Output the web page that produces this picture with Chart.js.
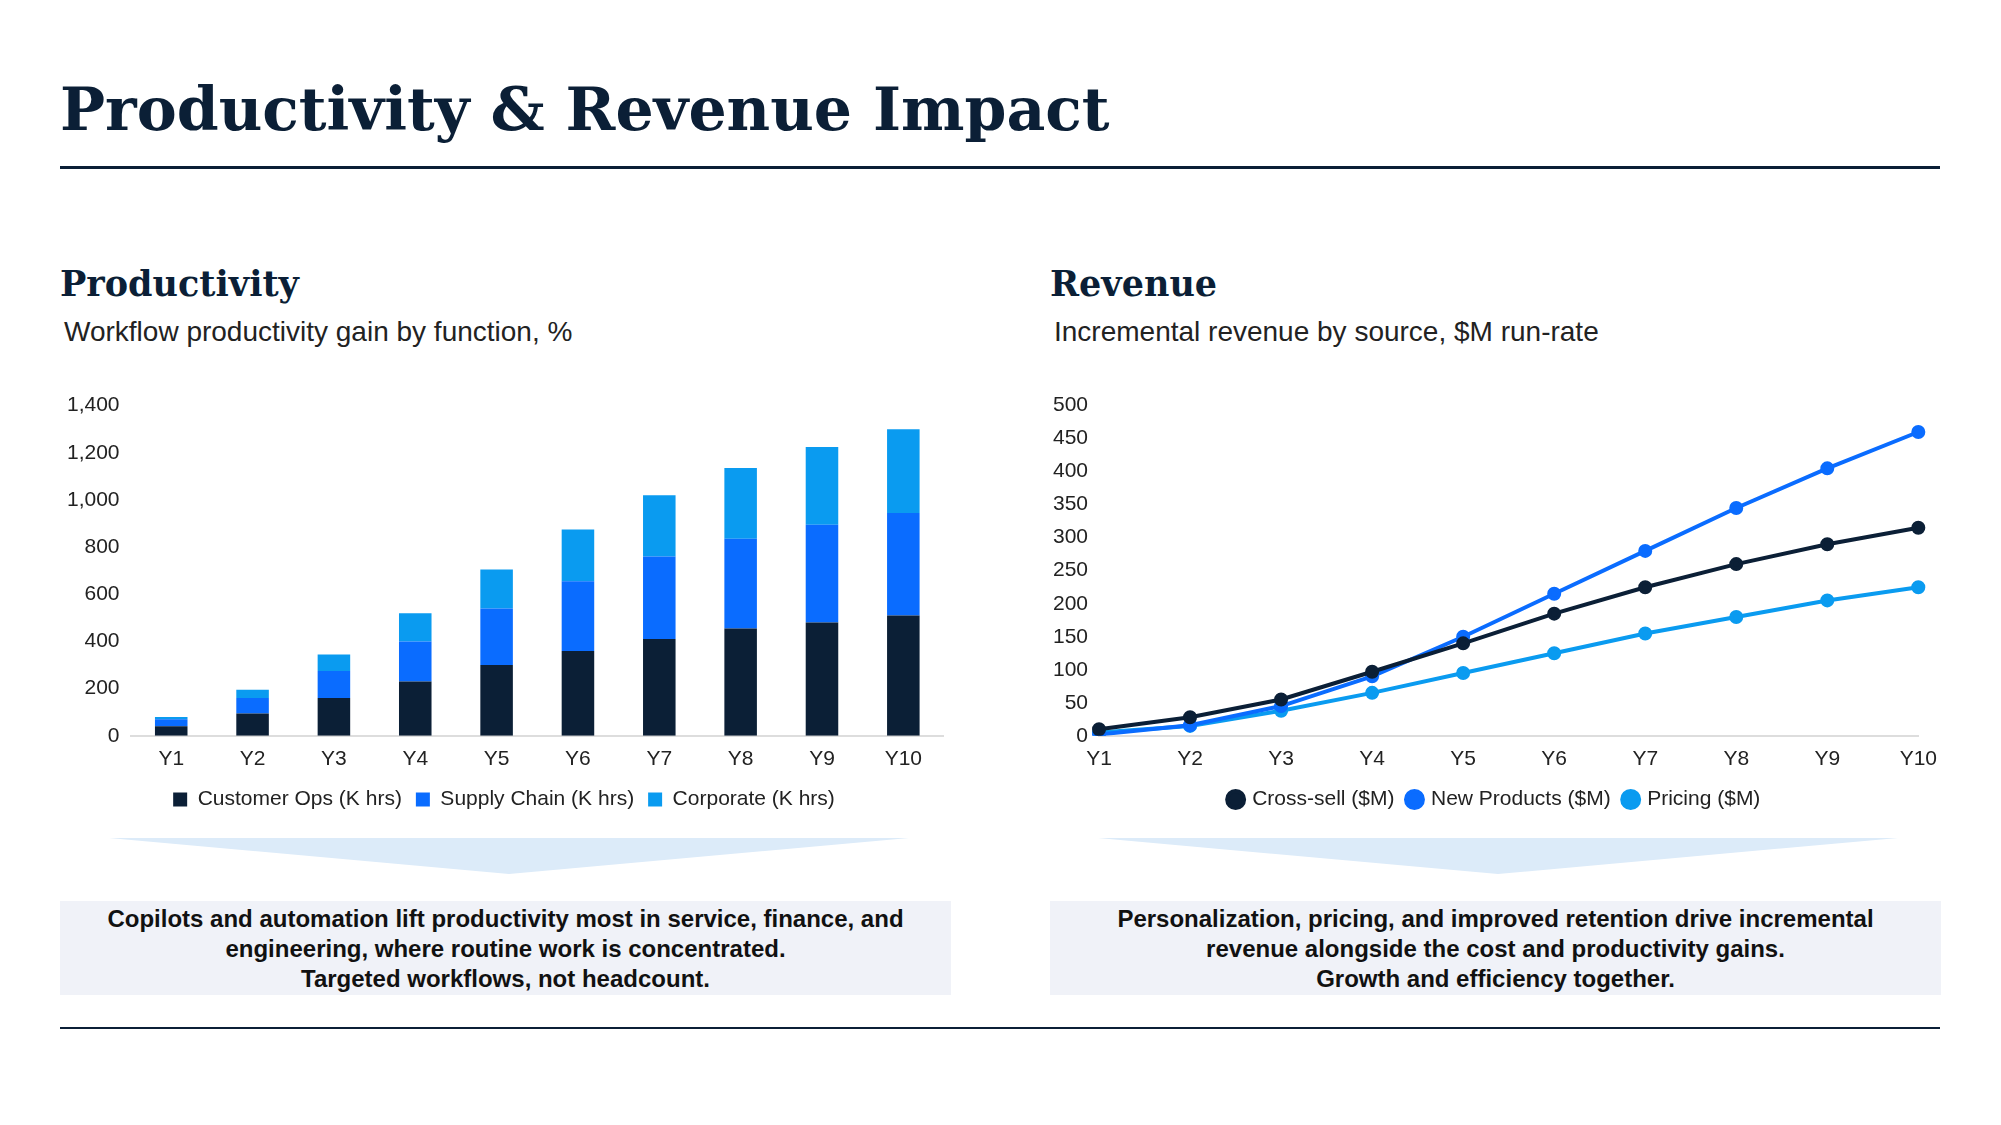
<!DOCTYPE html>
<html><head><meta charset="utf-8">
<script src="https://cdn.jsdelivr.net/npm/chart.js@4/dist/chart.umd.min.js"></script>
<style>
body{margin:0;width:2001px;height:1125px;background:#fff;font-family:"Liberation Sans",Arial,sans-serif;position:relative;overflow:hidden}
.abs{position:absolute}
h1{position:absolute;left:60px;top:74px;margin:0;font:bold 60px "DejaVu Serif",serif;color:#0b1f36}
.rule{position:absolute;left:60px;width:1880px;height:3px;background:#0b1f36}
h2{position:absolute;margin:0;font:bold 35px "DejaVu Serif",serif;color:#0b1f36}
.sub{position:absolute;font-size:28px;color:#222}
.tri{position:absolute;width:800px;height:36px;background:#dcebf9;clip-path:polygon(0 0,100% 0,50% 100%)}
.box{position:absolute;width:891px;height:94px;background:#f0f2f8;font-weight:bold;font-size:24px;color:#111;text-align:center;line-height:30px;padding-top:3px;box-sizing:border-box}
</style></head><body>
<h1>Productivity &amp; Revenue Impact</h1>
<div class="rule" style="top:166px"></div>
<h2 style="left:60px;top:263px">Productivity</h2>
<h2 style="left:1050px;top:263px">Revenue</h2>
<div class="sub" style="left:64px;top:316px">Workflow productivity gain by function, %</div>
<div class="sub" style="left:1054px;top:316px">Incremental revenue by source, $M run-rate</div>
<div class="abs" style="left:64px;top:390px;width:880px;height:430px"><canvas id="c1"></canvas></div>
<div class="abs" style="left:1050px;top:390px;width:890px;height:430px"><canvas id="c2"></canvas></div>
<div class="tri" style="left:109px;top:838px"></div>
<div class="tri" style="left:1098px;top:838px"></div>
<div class="box" style="left:60px;top:901px">Copilots and automation lift productivity most in service, finance, and<br>engineering, where routine work is concentrated.<br>Targeted workflows, not headcount.</div>
<div class="box" style="left:1050px;top:901px">Personalization, pricing, and improved retention drive incremental<br>revenue alongside the cost and productivity gains.<br>Growth and efficiency together.</div>
<div class="rule" style="top:1027px;height:2px"></div>
<script>
const years=["Y1","Y2","Y3","Y4","Y5","Y6","Y7","Y8","Y9","Y10"];
const customerOps=[40,95,160,230,300,360,410,455,480,510];
const supplyChain=[30,65,115,170,240,295,350,380,415,435];
const corporate=[10,35,70,120,165,220,260,300,330,355];
const crossSell=[10,28,55,97,140,185,225,260,290,315];
const newProducts=[2,16,45,90,150,215,280,345,405,460];
const pricing=[5,15,38,65,95,125,155,180,205,225];
const NAVY="#0b1f36",BLUE="#0a6cff",LIGHT="#0a9bf0";
Chart.defaults.font.family='"Liberation Sans",Arial,sans-serif';
Chart.defaults.color="#222";
const ticks={font:{size:21},color:"#222"};
const legendLabels={font:{size:21},color:"#222",boxWidth:14,boxHeight:14,padding:14};
new Chart(document.getElementById("c1"),{type:"bar",
data:{labels:years,datasets:[
{label:"Customer Ops (K hrs)",data:customerOps,backgroundColor:NAVY},
{label:"Supply Chain (K hrs)",data:supplyChain,backgroundColor:BLUE},
{label:"Corporate (K hrs)",data:corporate,backgroundColor:LIGHT}]},
options:{responsive:true,maintainAspectRatio:false,animation:false,
plugins:{legend:{position:"bottom",labels:legendLabels}},
datasets:{bar:{categoryPercentage:0.8,barPercentage:0.5}},
scales:{x:{stacked:true,grid:{display:false},border:{color:"#ddd",width:2},ticks},
y:{stacked:true,min:0,max:1400,ticks:{...ticks,stepSize:200},grid:{display:false},border:{display:false}}}}});
const ls=(l,d,c)=>({label:l,data:d,borderColor:c,backgroundColor:c,borderWidth:4,pointRadius:5,pointBackgroundColor:c,pointBorderColor:c,tension:0});
new Chart(document.getElementById("c2"),{type:"line",
data:{labels:years,datasets:[ls("Cross-sell ($M)",crossSell,NAVY),ls("New Products ($M)",newProducts,BLUE),ls("Pricing ($M)",pricing,LIGHT)]},
options:{responsive:true,maintainAspectRatio:false,animation:false,
plugins:{legend:{position:"bottom",labels:{...legendLabels,usePointStyle:true,pointStyle:"circle",boxWidth:12,boxHeight:12}}},
scales:{x:{grid:{display:false},border:{color:"#ddd",width:2},ticks,offset:false},
y:{min:0,max:500,ticks:{...ticks,stepSize:50},grid:{display:false},border:{display:false}}}}});
</script></body></html>
